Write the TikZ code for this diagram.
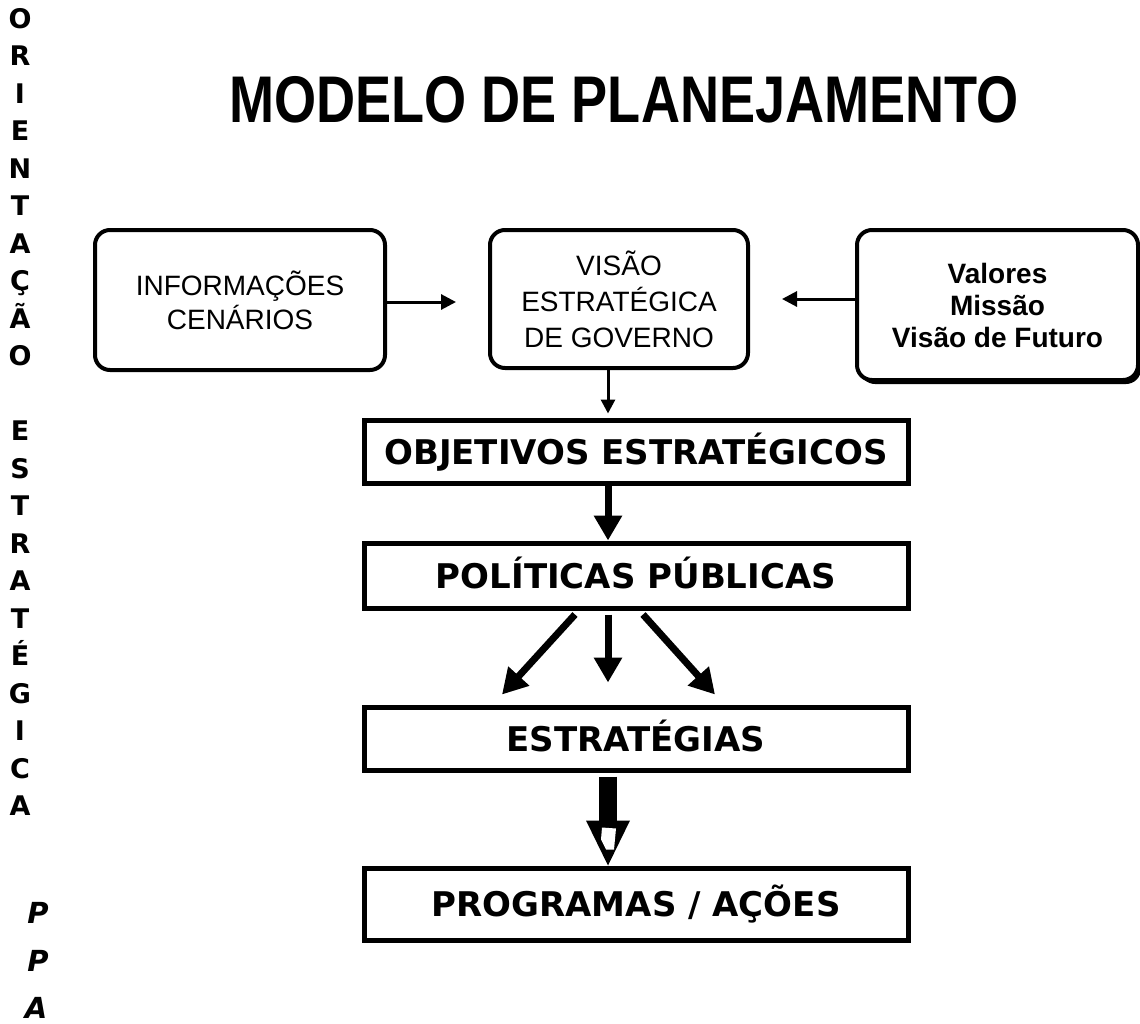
\documentclass[tikz,border=0pt]{standalone}
\usepackage{fontspec}
\usepackage{graphicx}
\setmainfont{Liberation Sans}
\newfontfamily\dejavu{DejaVu Sans}
\usetikzlibrary{arrows.meta,calc,shadows}
\begin{document}
\begin{tikzpicture}[x=1pt,y=-1pt,
  rbox/.style={draw, line width=4pt, rounded corners=15pt, align=center, inner sep=0pt, fill=white},
  bar/.style={draw, line width=5pt, minimum width=544pt, inner sep=0pt,
    font=\dejavu\bfseries\fontsize{34}{40}\selectfont, text height=25pt, text depth=0pt},
  thinarr/.style={line width=3pt, -{Triangle[length=15pt,width=15pt]}},
  medarr/.style={line width=7pt, -{Triangle[length=25pt,width=27pt]}},
  side/.style={font=\dejavu\bfseries\fontsize{27}{30}\selectfont, anchor=base, inner sep=0pt},
  sideit/.style={font=\dejavu\bfseries\itshape\fontsize{29}{30}\selectfont, anchor=base, inner sep=0pt},
]
\useasboundingbox (0,0) rectangle (1140,1023);
\fill[white] (0,0) rectangle (1140,1023);

% title
\node[font=\bfseries\fontsize{66}{70}\selectfont, inner sep=0pt] (title) at (624,100)
  {\scalebox{0.82}[1]{MODELO DE PLANEJAMENTO}};

% top boxes
\node[rbox, minimum width=290pt, minimum height=140pt, font=\fontsize{28}{34}\selectfont]
  (info) at (240,300) {INFORMAÇÕES\\CENÁRIOS};
\node[rbox, minimum width=258pt, minimum height=138pt, font=\fontsize{28}{36}\selectfont]
  (visao) at (619,299) {VISÃO\\ESTRATÉGICA\\DE GOVERNO};
\node[rbox, minimum width=281pt, minimum height=150pt, font=\bfseries\fontsize{28}{32}\selectfont,
  drop shadow={shadow xshift=3pt, shadow yshift=-4pt, opacity=1, fill=black}]
  (valores) at (997.5,305) {Valores\\Missão\\Visão de Futuro};

% bars
\node[bar, minimum height=63pt] (obj) at (636,451.5) {OBJETIVOS ESTRATÉGICOS};
\node[bar, minimum height=65pt] (pol) at (636,575.5) {POLÍTICAS PÚBLICAS};
\node[bar, minimum height=63pt] (estr) at (636,738.5) {ESTRATÉGIAS};
\node[bar, minimum height=72pt] (prog) at (636,904) {PROGRAMAS / AÇÕES};

% connectors
\draw[thinarr] (info.east |- 0,302) -- ($(visao.west)+(-32,3)$);
\draw[thinarr] (valores.west |- visao.east) -- ($(visao.east)+(32,0)$);
\draw[line width=3pt, -{Triangle[length=14pt,width=14pt]}]
  ($(visao.south)+(-11,0)$) -- ($(obj.north)+(-28,-4)$);
\draw[medarr] ($(obj.south)+(-28,0)$) -- ($(pol.north)+(-28,0)$);
\draw[medarr] ($(pol.south)+(-61,4)$) -- ($(estr.north)+(-134,-10)$);
\draw[medarr] ($(pol.south)+(-28,4)$) -- ($(estr.north)+(-28,-22)$);
\draw[medarr] ($(pol.south)+(7,4)$) -- ($(estr.north)+(79,-10)$);

% thick hollow-headed arrow
\draw[line width=18pt] ($(estr.south)+(-28,4)$) -- ($(prog.north)+(-28,-42)$);
\fill ($(prog.north)+(-50,-45)$) -- ($(prog.north)+(-6,-45)$) -- ($(prog.north)+(-28,0)$) -- cycle;
\fill[white] ($(prog.north)+(-34,-38)$) -- ($(prog.north)+(-20,-37)$) -- ($(prog.north)+(-22,-16)$)
  -- ($(prog.north)+(-30,-16)$) -- ($(prog.north)+(-35,-26)$) -- cycle;

% left vertical words
\foreach \ch [count=\i from 0] in {O,R,I,E,N,T,A,Ç,Ã,O}
  \node[side] (a\i) at (20, 28+37.5*\i) {\ch};
\foreach \ch [count=\i from 0] in {E,S,T,R,A,T,É,G,I,C,A}
  \node[side] (b\i) at (20, 440.5+37.5*\i) {\ch};
\node[sideit] (p1) at (38,923) {P};
\node[sideit] (p2) at (38,971) {P};
\node[sideit] (p3) at (36,1018) {A};
\end{tikzpicture}
\end{document}
